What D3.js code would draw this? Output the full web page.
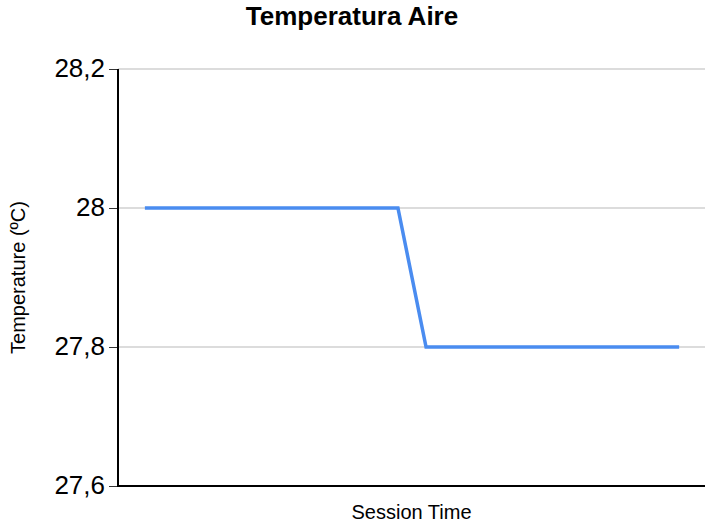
<!DOCTYPE html>
<html>
<head>
<meta charset="utf-8">
<script src="https://cdn.jsdelivr.net/npm/d3@7"></script>
<style>
  html, body { margin: 0; padding: 0; background: #fff; }
  svg { display: block; font-family: "Liberation Sans", Arial, sans-serif; }
</style>
</head>
<body>
<svg id="chart" width="705" height="528"></svg>
<script>
// Session samples and air temperature readings (ºC)
const sessionTime = [1, 2, 3, 4, 5, 6, 7, 8, 9, 10, 11, 12, 13, 14, 15, 16, 17, 18, 19, 20];
const temperature = [28, 28, 28, 28, 28, 28, 28, 28, 28, 28,
                     27.8, 27.8, 27.8, 27.8, 27.8, 27.8, 27.8, 27.8, 27.8, 27.8];
const yTicks = [27.6, 27.8, 28, 28.2];
const yDomain = [27.6, 28.2];

const chartTitle = "Temperatura Aire";
const xTitle = "Session Time";
const yTitle = "Temperature (ºC)";

const svg = d3.select("#chart");
const margin = { top: 69, right: 0, bottom: 42, left: 118 };
const W = 705, H = 528;
const innerW = W - margin.left - margin.right;
const innerH = H - margin.top - margin.bottom;

const x = d3.scalePoint()
  .domain(sessionTime)
  .range([margin.left + 1, W - margin.right])
  .padding(0.92);

const y = d3.scaleLinear()
  .domain(yDomain)
  .range([H - margin.bottom, margin.top]);

const fmt = v => String(v).replace(".", ",");

// Horizontal grid lines
svg.append("g")
  .selectAll("line")
  .data(yTicks.filter(t => t !== yDomain[0]))
  .join("line")
  .attr("x1", margin.left)
  .attr("x2", W - margin.right)
  .attr("y1", d => y(d))
  .attr("y2", d => y(d))
  .attr("stroke", "#dcdcdc")
  .attr("stroke-width", 2);

// Y axis
const yAxis = svg.append("g")
  .attr("transform", `translate(${margin.left},0)`)
  .call(d3.axisLeft(y).tickValues(yTicks).tickFormat(fmt).tickSize(9).tickPadding(4));
yAxis.select(".domain").remove();
yAxis.selectAll(".tick line").attr("stroke", "#333").attr("stroke-width", 1);
yAxis.selectAll(".tick text")
  .attr("fill", "#000")
  .style("font-size", "26px")
  .style("font-family", "'Liberation Sans', Arial, sans-serif")
  .attr("dy", "0.28em");

svg.append("line")
  .attr("x1", margin.left).attr("x2", margin.left)
  .attr("y1", y(yDomain[1])).attr("y2", y(yDomain[0]) + 1)
  .attr("stroke", "#000").attr("stroke-width", 2);

// X axis baseline
svg.append("line")
  .attr("x1", margin.left).attr("x2", W - margin.right)
  .attr("y1", y(yDomain[0])).attr("y2", y(yDomain[0]))
  .attr("stroke", "#000").attr("stroke-width", 2);

// Temperature line
const line = d3.line()
  .x((d, i) => x(sessionTime[i]))
  .y(d => y(d));

svg.append("path")
  .datum(temperature)
  .attr("fill", "none")
  .attr("stroke", "#4a8cf0")
  .attr("stroke-width", 3.5)
  .attr("stroke-linejoin", "miter")
  .attr("d", line);

// Titles
svg.append("text")
  .attr("x", 352)
  .attr("y", 25)
  .attr("text-anchor", "middle")
  .style("font-size", "26px")
  .style("font-weight", "bold")
  .text(chartTitle);

svg.append("text")
  .attr("x", margin.left + innerW / 2)
  .attr("y", 519)
  .attr("text-anchor", "middle")
  .style("font-size", "20px")
  .text(xTitle);

svg.append("text")
  .attr("transform", `translate(25,${margin.top + innerH / 2}) rotate(-90)`)
  .attr("text-anchor", "middle")
  .style("font-size", "20px")
  .text(yTitle);
</script>
</body>
</html>
